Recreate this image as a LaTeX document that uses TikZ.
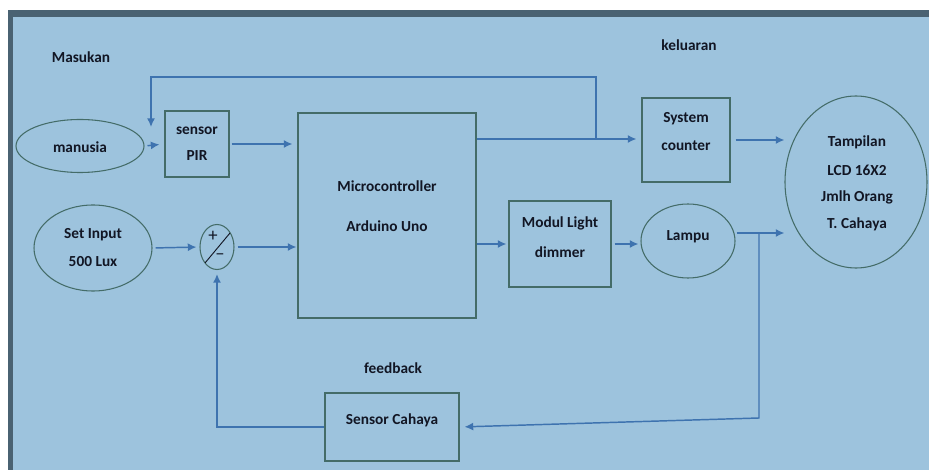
\documentclass[tikz,border=0pt]{standalone}
\usepackage{fontspec}
\setmainfont{Carlito}
\usetikzlibrary{shapes.geometric,arrows.meta,calc}

\definecolor{panel}{RGB}{157,195,221}
\definecolor{frame}{RGB}{74,98,114}
\definecolor{wire}{RGB}{62,115,175}
\definecolor{outline}{RGB}{68,108,104}
\definecolor{ink}{RGB}{18,22,36}

\newdimen\px \px=0.75pt

\tikzset{
  shapebase/.style={draw=outline, line width=0.8pt, inner sep=0pt, anchor=center},
  blockbox/.style={shapebase, rectangle},
  oval/.style={shapebase, ellipse},
  lbl/.style={text=ink, font=\fontsize{11.5}{13}\selectfont\bfseries, inner sep=0pt, anchor=center},
  signmark/.style={text=ink, font=\fontsize{14}{14}\selectfont, inner sep=0pt},
  wireline/.style={draw=wire, line width=1.1pt},
  flow/.style={wireline, -{Latex[length=6.5pt,width=6pt]}},
}

\begin{document}
\begin{tikzpicture}[x=0.75pt, y=-0.75pt]
  \useasboundingbox (0,0) rectangle (929,470);
  % page, frame and panel
  \fill[white] (0,0) rectangle (929,470);
  \fill[frame] (8,10) rectangle (929,470);
  \fill[panel] (13,17) rectangle (929,470);

  % section headings
  \node[lbl] (masukan) at (81,57) {Masukan};
  \node[lbl] (keluaran) at (689,45) {keluaran};
  \node[lbl] (feedback) at (393,368) {feedback};

  % blocks
  \node[oval, minimum width=128\px, minimum height=53\px] (manusia) at (80,146) {};
  \node[blockbox, minimum width=64\px, minimum height=66\px] (pir) at (197,144) {};
  \node[blockbox, minimum width=178\px, minimum height=205\px] (mc) at (387,215.5) {};
  \node[blockbox, minimum width=88\px, minimum height=84\px] (counter) at (686,140) {};
  \node[oval, minimum width=142\px, minimum height=172\px] (lcd) at (856,182) {};
  \node[blockbox, minimum width=102\px, minimum height=86\px] (dimmer) at (560,244) {};
  \node[oval, minimum width=94\px, minimum height=74\px] (lampu) at (688,241) {};
  \node[oval, minimum width=118\px, minimum height=86\px] (setin) at (93,248) {};
  \node[oval, minimum width=34\px, minimum height=45\px] (sum) at (217,247) {};
  \node[blockbox, minimum width=134\px, minimum height=68\px] (cahaya) at (392,427) {};

  % block texts
  \node[lbl] (tmanusia) at (80,147) {manusia};
  \node[lbl] (tpir1) at (197,131) {sensor};
  \node[lbl] (tpir2) at (197,156) {PIR};
  \node[lbl] (tmc1) at (387,186) {Microcontroller};
  \node[lbl] (tmc2) at (387,226) {Arduino Uno};
  \node[lbl] (tcnt1) at (686,119) {System};
  \node[lbl] (tcnt2) at (686,146) {counter};
  \node[lbl] (tlcd1) at (857,142) {Tampilan};
  \node[lbl] (tlcd2) at (857,170) {LCD 16X2};
  \node[lbl] (tlcd3) at (857,197) {Jmlh Orang};
  \node[lbl] (tlcd4) at (857,224) {T. Cahaya};
  \node[lbl] (tdim1) at (560,223) {Modul Light};
  \node[lbl] (tdim2) at (560,252) {dimmer};
  \node[lbl] (tlampu) at (688,237) {Lampu};
  \node[lbl] (tset1) at (93,235) {Set Input};
  \node[lbl] (tset2) at (93,262) {500 Lux};
  \node[lbl] (tcahaya) at (392,420) {Sensor Cahaya};

  % summing junction marks
  \draw[draw=ink, line width=0.7pt] (205,263) -- (230,233);
  \node[signmark] (plus) at (213,236) {+};
  \node[signmark] (minus) at (220,257) {\textendash};

  % helper points of the wiring
  \coordinate (jtop) at (596,139);
  \coordinate (pirtop) at (151,127);
  \coordinate (fbcorner) at (759,418);

  % forward path
  \draw[flow, shorten <=3\px, shorten >=5\px] (manusia.east) -- (pir.west);
  \draw[flow, shorten <=2\px, shorten >=5\px] (pir.east) -- (pir.east -| mc.west);
  \draw[flow, shorten >=5\px] (mc.east |- jtop) -- (jtop -| counter.west);
  \draw[flow, shorten <=5\px] (counter.east) -- (counter.east -| lcd.west);
  \draw[flow, shorten >=2\px] (mc.east |- dimmer.west) -- (dimmer.west);
  \draw[flow, shorten <=3\px, shorten >=2\px] (dimmer.east) -- (dimmer.east -| lampu.west);
  \draw[flow, shorten <=1\px] ([yshift=6pt]lampu.east) -- ([yshift=6pt]lampu.east -| lcd.west);
  \draw[flow, shorten <=3\px, shorten >=3\px] (setin.east) -- (sum.west);
  \draw[flow, shorten <=3\px, shorten >=1\px] (sum.east) -- (sum.east -| mc.west);

  % loop back to the motion sensor
  \draw[flow] (jtop) -- (596,77) -- (151,77) -- (pirtop);

  % light feedback loop
  \draw[flow, shorten >=5\px] ([yshift=6pt]lampu.east -| fbcorner) -- (fbcorner) -- (cahaya.east);
  \draw[flow, shorten >=4\px] (cahaya.west) -| (sum.south);
\end{tikzpicture}
\end{document}
